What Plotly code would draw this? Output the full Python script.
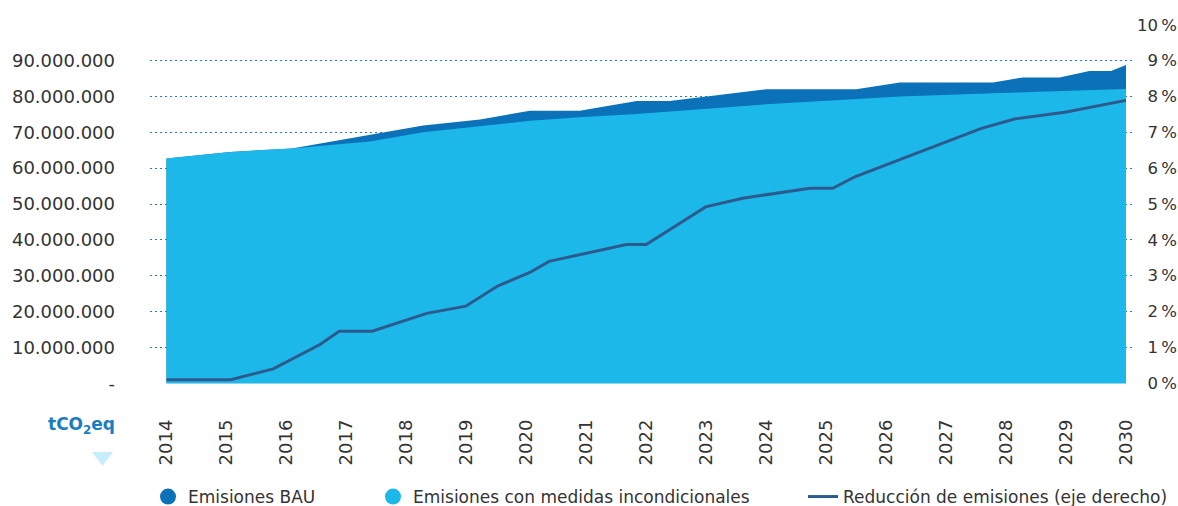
import plotly.graph_objects as go

# ---- data ----
years = [2014, 2015, 2016, 2017, 2018, 2019, 2020, 2021, 2022,
         2023, 2024, 2025, 2026, 2027, 2028, 2029, 2030]

bau_x = [2014.0, 2015.06, 2016.09, 2017.39, 2018.28, 2019.23, 2020.06, 2020.89,
         2021.84, 2022.39, 2024.0, 2025.5, 2026.23, 2027.78, 2028.28, 2028.89,
         2029.39, 2029.75, 2030.0]
bau_mt = [62.7, 64.5, 65.5, 69.4, 71.9, 73.6, 76.0, 76.0,
          78.7, 78.7, 82.0, 82.0, 83.9, 83.9, 85.3, 85.3,
          87.1, 87.1, 88.8]

inc_x = [2014.0, 2015.06, 2016.09, 2017.39, 2018.28, 2019.23, 2020.06, 2020.89,
         2021.84, 2024.0, 2024.56, 2026.23, 2027.78, 2030.0]
inc_mt = [62.7, 64.5, 65.5, 67.4, 70.0, 71.8, 73.2, 74.2,
          75.1, 77.8, 78.4, 80.0, 80.9, 82.1]

red_x = [2014.0, 2015.07, 2015.78, 2016.56, 2016.88, 2017.43, 2018.34, 2018.99,
         2019.53, 2020.06, 2020.38, 2021.67, 2022.0, 2022.99, 2023.61, 2024.73,
         2025.11, 2025.48, 2026.39, 2027.59, 2028.14, 2028.98, 2030.0]
red_pct = [0.1, 0.1, 0.4, 1.08, 1.45, 1.45, 1.95, 2.15,
           2.72, 3.09, 3.40, 3.87, 3.87, 4.92, 5.16, 5.44,
           5.44, 5.76, 6.34, 7.11, 7.37, 7.56, 7.89]

left_tickvals = [0, 10e6, 20e6, 30e6, 40e6, 50e6, 60e6, 70e6, 80e6, 90e6, 100e6]
left_ticktext = ["-", "10.000.000", "20.000.000", "30.000.000", "40.000.000",
                 "50.000.000", "60.000.000", "70.000.000", "80.000.000",
                 "90.000.000", " "]
right_tickvals = [0, 1, 2, 3, 4, 5, 6, 7, 8, 9, 10]
right_ticktext = ["\u20070\u2009%", "\u20071\u2009%", "\u20072\u2009%", "\u20073\u2009%",
                  "\u20074\u2009%", "\u20075\u2009%", "\u20076\u2009%", "\u20077\u2009%",
                  "\u20078\u2009%", "\u20079\u2009%", "10\u2009%"]

names = ["Emisiones BAU", "Emisiones con medidas incondicionales",
         "Reducción de emisiones (eje derecho)"]

# ---- styles ----
DARK = "#0B71B9"
LIGHT = "#1DB8EA"
LINE = "#2D5A8C"
GRID = "#2A7EC4"
TXT = "#333333"
FONT = "DejaVu Sans"

fig = go.Figure()
fig.add_trace(go.Scatter(x=bau_x, y=[v * 1e6 for v in bau_mt], mode="lines",
                         fill="tozeroy", fillcolor=DARK,
                         line=dict(width=0, color=DARK), showlegend=False,
                         hoverinfo="skip"))
fig.add_trace(go.Scatter(x=inc_x, y=[v * 1e6 for v in inc_mt], mode="lines",
                         fill="tozeroy", fillcolor=LIGHT,
                         line=dict(width=0, color=LIGHT), showlegend=False,
                         hoverinfo="skip"))
fig.add_trace(go.Scatter(x=red_x, y=red_pct, mode="lines", yaxis="y2",
                         line=dict(width=3, color=LINE), name=names[2],
                         legend="legend3", hoverinfo="skip"))
# legend-only entries with circle symbols
fig.add_trace(go.Scatter(x=[None], y=[None], mode="markers", name=names[0],
                         marker=dict(symbol="circle", size=16, color=DARK),
                         legend="legend"))
fig.add_trace(go.Scatter(x=[None], y=[None], mode="markers", name=names[1],
                         marker=dict(symbol="circle", size=16, color=LIGHT),
                         legend="legend2"))

W, H = 1178, 506
PL, PR, PT, PB = 150, 1135, 24, 384


def px(xp):
    return (xp - PL) / (PR - PL)


def py(yp):
    return (PB - yp) / (PB - PT)


def cx(xp):
    return xp / W


def cy(yp):
    return (H - yp) / H


legend_common = dict(orientation="h", yanchor="middle", xanchor="left",
                     xref="container", yref="container",
                     font=dict(family=FONT, size=17, color=TXT),
                     bgcolor="rgba(0,0,0,0)")

PAD = 0.2e6
fig.update_layout(
    width=W, height=H,
    margin=dict(l=PL, r=W - PR, t=PT, b=H - PB),
    paper_bgcolor="white", plot_bgcolor="white",
    font=dict(family=FONT, size=18, color=TXT),
    xaxis=dict(range=[2013.725, 2030.15], tickvals=years,
               ticktext=[str(y) for y in years], tickangle=-90,
               showgrid=False, zeroline=False, showline=False,
               ticklabelstandoff=31, automargin=False,
               tickfont=dict(family=FONT, size=18, color=TXT)),
    yaxis=dict(range=[-PAD, 100e6 + PAD], tickvals=left_tickvals,
               ticktext=left_ticktext,
               showgrid=True, gridcolor=GRID, gridwidth=1, griddash="2px,3px",
               zeroline=False, showline=False, ticklabelstandoff=34,
               automargin=False,
               tickfont=dict(family=FONT, size=18, color=TXT)),
    yaxis2=dict(range=[-PAD / 1e7, 10 + PAD / 1e7], tickvals=right_tickvals,
                ticktext=right_ticktext,
                overlaying="y", side="right", showgrid=False, zeroline=False,
                showline=False, ticklabelstandoff=1, automargin=False,
                tickfont=dict(family=FONT, size=16.5, color=TXT)),
    legend=dict(x=cx(148), y=cy(497), **legend_common),
    legend2=dict(x=cx(373), y=cy(497), **legend_common),
    legend3=dict(x=cx(803), y=cy(497), **legend_common),
    annotations=[dict(text="<b>tCO<sub>2</sub>eq</b>", xref="paper", yref="paper",
                      x=px(81), y=py(425), xanchor="center", yanchor="middle",
                      showarrow=False,
                      font=dict(family=FONT, size=17, color="#1A7CC1"))],
    shapes=[dict(type="path", xref="paper", yref="paper",
                 path=f"M {px(92)},{py(452)} L {px(113)},{py(452)} L {px(102.5)},{py(466)} Z",
                 fillcolor="#C9ECFA", line=dict(width=0))],
)

fig.write_html("out.html", config={"displayModeBar": False},
               post_script="document.body.style.margin='0px';")
